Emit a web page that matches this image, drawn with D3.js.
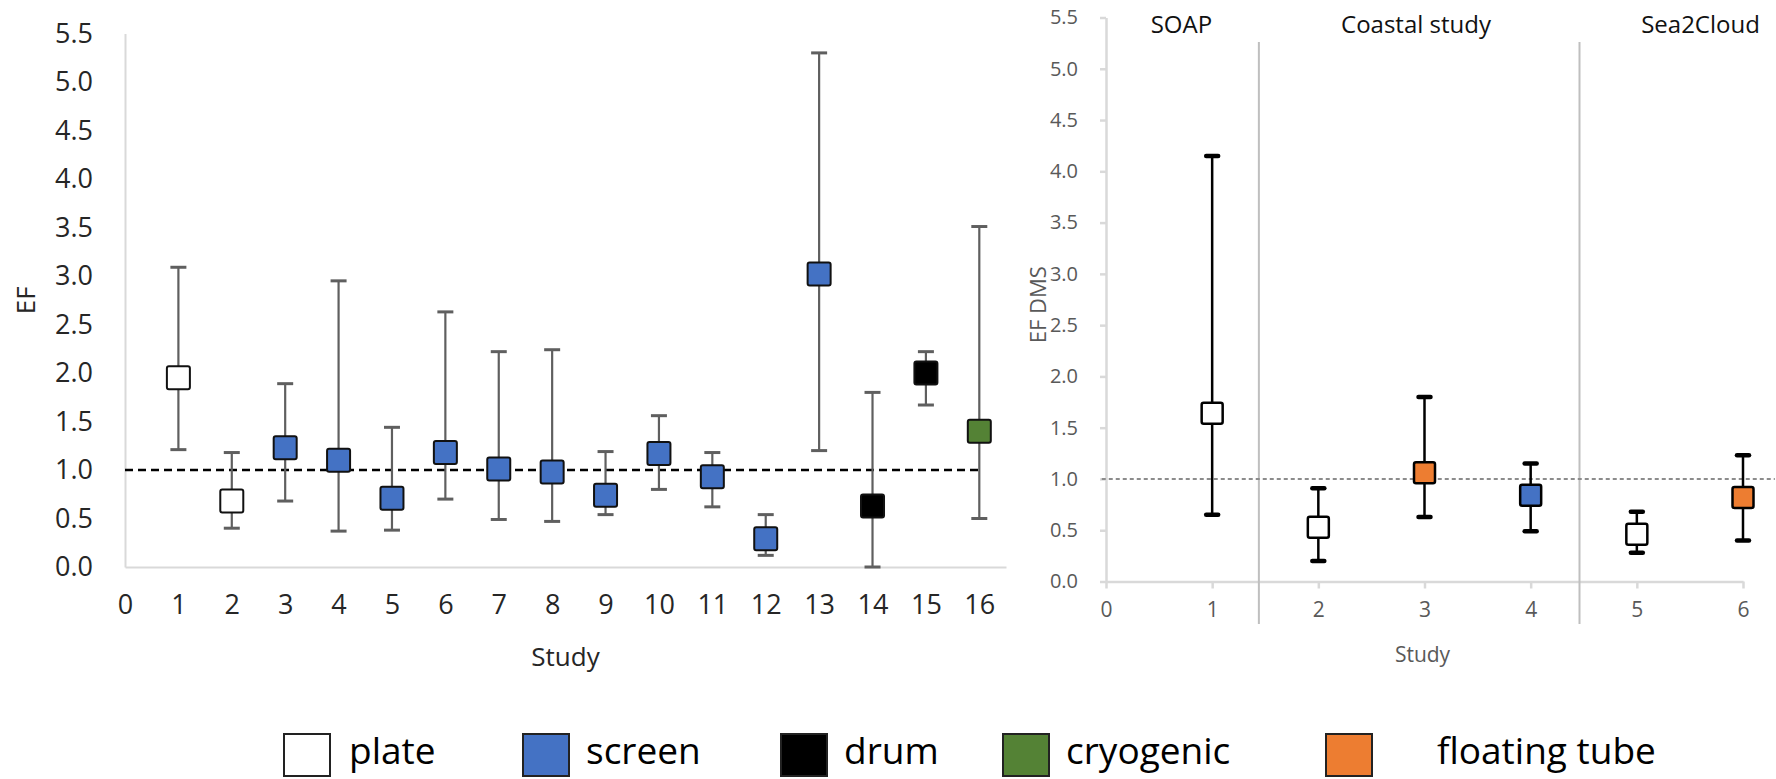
<!DOCTYPE html>
<html>
<head>
<meta charset="utf-8">
<script src="https://cdn.jsdelivr.net/npm/d3@7"></script>
<style>
  body { margin: 0; background: #fff; }
  svg { display: block; font-family: "Open Sans", sans-serif; }
</style>
</head>
<body>
<script>

// DATA - left panel (all studies)
var leftStudies = [1, 2, 3, 4, 5, 6, 7, 8, 9, 10, 11, 12, 13, 14, 15, 16];
var leftType = ["plate", "plate", "screen", "screen", "screen", "screen", "screen", "screen",
                "screen", "screen", "screen", "screen", "screen", "drum", "drum", "cryogenic"];
var leftEF   = [1.95, 0.68, 1.23, 1.10, 0.71, 1.18, 1.01, 0.98, 0.74, 1.17, 0.93, 0.29, 3.02, 0.63, 2.00, 1.40];
var leftHigh = [3.09, 1.18, 1.89, 2.95, 1.44, 2.63, 2.22, 2.24, 1.19, 1.56, 1.18, 0.54, 5.30, 1.80, 2.22, 3.51];
var leftLow  = [1.21, 0.40, 0.68, 0.37, 0.38, 0.70, 0.49, 0.47, 0.54, 0.80, 0.62, 0.12, 1.20, 0.00, 1.67, 0.50];
var leftXTicks = [0, 1, 2, 3, 4, 5, 6, 7, 8, 9, 10, 11, 12, 13, 14, 15, 16];

// DATA - right panel (DMS)
var rightStudies = [1, 2, 3, 4, 5, 6];
var rightType = ["plate", "plate", "floating tube", "screen", "plate", "floating tube"];
var rightEF   = [1.64, 0.53, 1.06, 0.84, 0.46, 0.82];
var rightHigh = [4.15, 0.91, 1.80, 1.15, 0.68, 1.23];
var rightLow  = [0.65, 0.20, 0.63, 0.49, 0.28, 0.40];
var rightXTicks = [0, 1, 2, 3, 4, 5, 6];

// campaigns shown on the right panel
var campaigns = ["SOAP", "Coastal study", "Sea2Cloud"];
var campaignCenter = [0.71, 2.92, 5.6];
var campaignBreaks = [1.44, 4.46];

var yTicks = [0, 0.5, 1, 1.5, 2, 2.5, 3, 3.5, 4, 4.5, 5, 5.5];

// legend
var sampleTypes = ["plate", "screen", "drum", "cryogenic", "floating tube"];
var typeColors  = ["#ffffff", "#4472c4", "#000000", "#548235", "#ed7d31"];

var color = d3.scaleOrdinal().domain(sampleTypes).range(typeColors);

var svg = d3.select("body").append("svg")
  .attr("width", 1776)
  .attr("height", 779);

svg.append("rect").attr("width", 1776).attr("height", 779).attr("fill", "#fff");

function rows(studies, ef, hi, lo, type) {
  return studies.map(function(s, i) {
    return {study: s, ef: ef[i], hi: hi[i], lo: lo[i], type: type[i]};
  });
}

//////////////////////// LEFT PANEL
var xL = d3.scaleLinear().domain([0, 16.5]).range([125, 1006]);
var yL = d3.scaleLinear().domain([0, 5.5]).range([567, 33.5]);

var gL = svg.append("g");

var yAxL = gL.append("g")
  .attr("transform", "translate(" + xL(0) + ",0)")
  .call(d3.axisLeft(yL).tickValues(yTicks).tickFormat(d3.format(".1f")).tickSize(0).tickPadding(32));
yAxL.select(".domain").attr("stroke", "#d9d9d9").attr("stroke-width", 2);
yAxL.selectAll("text").attr("font-size", 27).attr("fill", "#262626").attr("font-family", "Open Sans");

var xAxL = gL.append("g")
  .attr("transform", "translate(0," + yL(0) + ")")
  .call(d3.axisBottom(xL).tickValues(leftXTicks).tickFormat(d3.format("d")).tickSize(0).tickPadding(28));
xAxL.select(".domain").attr("stroke", "#d9d9d9").attr("stroke-width", 2);
xAxL.selectAll("text").attr("font-size", 27).attr("fill", "#262626").attr("font-family", "Open Sans");

gL.append("text")
  .attr("x", (xL(0) + xL(16.5)) / 2).attr("y", 666)
  .attr("text-anchor", "middle").attr("font-size", 26).attr("fill", "#262626")
  .text("Study");

gL.append("text")
  .attr("transform", "translate(35," + yL(2.75) + ") rotate(-90)")
  .attr("text-anchor", "middle").attr("font-size", 26).attr("fill", "#262626")
  .text("EF");

// reference line EF = 1
gL.append("line")
  .attr("x1", xL(0)).attr("x2", xL(16))
  .attr("y1", yL(1)).attr("y2", yL(1))
  .attr("stroke", "#000").attr("stroke-width", 2.5).attr("stroke-dasharray", "8,5");

var leftData = rows(leftStudies, leftEF, leftHigh, leftLow, leftType);

var errL = gL.selectAll(".errL").data(leftData).enter().append("g").attr("class", "errL")
  .attr("stroke", "#5f5f5f").attr("stroke-width", 2.2);
errL.append("line")
  .attr("x1", function(d) { return xL(d.study); }).attr("x2", function(d) { return xL(d.study); })
  .attr("y1", function(d) { return yL(d.hi); }).attr("y2", function(d) { return yL(d.lo); });
errL.append("line")
  .attr("x1", function(d) { return xL(d.study) - 8; }).attr("x2", function(d) { return xL(d.study) + 8; })
  .attr("y1", function(d) { return yL(d.hi); }).attr("y2", function(d) { return yL(d.hi); })
  .attr("stroke-width", 3);
errL.append("line")
  .attr("x1", function(d) { return xL(d.study) - 8; }).attr("x2", function(d) { return xL(d.study) + 8; })
  .attr("y1", function(d) { return yL(d.lo); }).attr("y2", function(d) { return yL(d.lo); })
  .attr("stroke-width", 3);

gL.selectAll(".markL").data(leftData).enter().append("rect").attr("class", "markL")
  .attr("x", function(d) { return xL(d.study) - 11.5; })
  .attr("y", function(d) { return yL(d.ef) - 11.5; })
  .attr("width", 23).attr("height", 23).attr("rx", 2)
  .attr("fill", function(d) { return color(d.type); })
  .attr("stroke", "#111").attr("stroke-width", 2);

//////////////////////// RIGHT PANEL
var xR = d3.scaleLinear().domain([0, 6]).range([1106, 1743]);
var yR = d3.scaleLinear().domain([0, 5.5]).range([581.5, 17.5]);

var gR = svg.append("g");

var yAxR = gR.append("g")
  .attr("transform", "translate(" + xR(0) + ",0)")
  .call(d3.axisLeft(yR).tickValues(yTicks).tickFormat(d3.format(".1f")).tickSize(6).tickSizeOuter(0).tickPadding(22));
yAxR.selectAll(".domain, line").attr("stroke", "#d9d9d9").attr("stroke-width", 2.5);
yAxR.selectAll("text").attr("font-size", 20).attr("fill", "#595959").attr("font-family", "Open Sans");

var xAxR = gR.append("g")
  .attr("transform", "translate(0," + yR(0) + ")")
  .call(d3.axisBottom(xR).tickValues(rightXTicks).tickFormat(d3.format("d")).tickSize(7).tickSizeOuter(0).tickPadding(14));
xAxR.selectAll(".domain, line").attr("stroke", "#d9d9d9").attr("stroke-width", 2.5);
xAxR.selectAll("text").attr("font-size", 21).attr("fill", "#595959").attr("font-family", "Open Sans");

gR.append("text")
  .attr("x", (xR(0) + xR(6)) / 2 - 2).attr("y", 662)
  .attr("text-anchor", "middle").attr("font-size", 21).attr("fill", "#595959")
  .text("Study");

gR.append("text")
  .attr("transform", "translate(1046," + yR(2.7) + ") rotate(-90)")
  .attr("text-anchor", "middle").attr("font-size", 22).attr("fill", "#595959")
  .text("EF DMS");

// campaign separators + names
gR.selectAll(".sep").data(campaignBreaks).enter().append("line").attr("class", "sep")
  .attr("x1", function(d) { return xR(d); }).attr("x2", function(d) { return xR(d); })
  .attr("y1", 42).attr("y2", 624)
  .attr("stroke", "#bfbfbf").attr("stroke-width", 2);

gR.selectAll(".camp").data(campaigns).enter().append("text").attr("class", "camp")
  .attr("x", function(d, i) { return xR(campaignCenter[i]); })
  .attr("y", 33)
  .attr("text-anchor", "middle").attr("font-size", 24).attr("fill", "#111")
  .text(function(d) { return d; });

gR.append("line")
  .attr("x1", xR(-0.04)).attr("x2", xR(6.3))
  .attr("y1", yR(1)).attr("y2", yR(1))
  .attr("stroke", "#8c8c8c").attr("stroke-width", 2).attr("stroke-dasharray", "4,3");

var rightData = rows(rightStudies, rightEF, rightHigh, rightLow, rightType);

var errR = gR.selectAll(".errR").data(rightData).enter().append("g").attr("class", "errR")
  .attr("stroke", "#000").attr("stroke-width", 2.5);
errR.append("line")
  .attr("x1", function(d) { return xR(d.study); }).attr("x2", function(d) { return xR(d.study); })
  .attr("y1", function(d) { return yR(d.hi); }).attr("y2", function(d) { return yR(d.lo); });
errR.append("line")
  .attr("x1", function(d) { return xR(d.study) - 6; }).attr("x2", function(d) { return xR(d.study) + 6; })
  .attr("y1", function(d) { return yR(d.hi); }).attr("y2", function(d) { return yR(d.hi); })
  .attr("stroke-width", 4.5).attr("stroke-linecap", "round");
errR.append("line")
  .attr("x1", function(d) { return xR(d.study) - 6; }).attr("x2", function(d) { return xR(d.study) + 6; })
  .attr("y1", function(d) { return yR(d.lo); }).attr("y2", function(d) { return yR(d.lo); })
  .attr("stroke-width", 4.5).attr("stroke-linecap", "round");

gR.selectAll(".markR").data(rightData).enter().append("rect").attr("class", "markR")
  .attr("x", function(d) { return xR(d.study) - 10.5; })
  .attr("y", function(d) { return yR(d.ef) - 10.5; })
  .attr("width", 21).attr("height", 21).attr("rx", 2)
  .attr("fill", function(d) { return color(d.type); })
  .attr("stroke", "#000").attr("stroke-width", 2.5);

//////////////////////// LEGEND
var legendX = [283, 522, 780, 1002, 1325];
var legendGap = [18, 16, 16, 16, 64];

var leg = svg.selectAll(".leg").data(sampleTypes).enter().append("g").attr("class", "leg")
  .attr("transform", function(d, i) { return "translate(" + legendX[i] + ",733)"; });
leg.append("rect")
  .attr("x", 1).attr("y", 1).attr("width", 46).attr("height", 42)
  .attr("fill", function(d) { return color(d); })
  .attr("stroke", "#222").attr("stroke-width", 2);
leg.append("text")
  .attr("x", function(d, i) { return 48 + legendGap[i]; })
  .attr("y", 31)
  .attr("font-size", 37).attr("fill", "#000")
  .text(function(d) { return d; });

</script>
</body>
</html>
